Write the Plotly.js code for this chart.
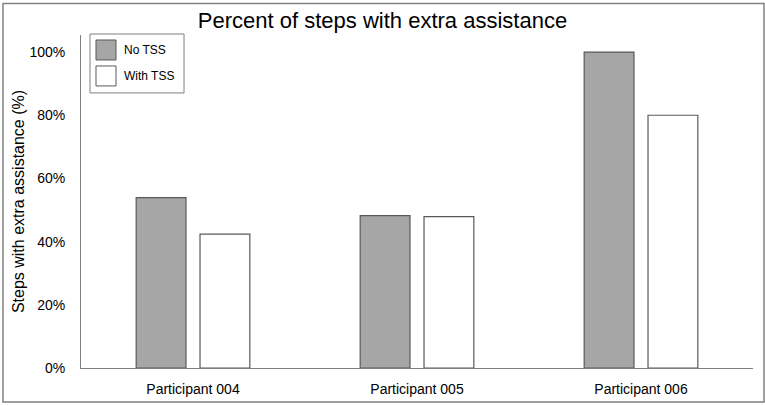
<!DOCTYPE html>
<html>
<head>
<meta charset="utf-8">
<script src="https://cdn.plot.ly/plotly-3.0.1.min.js"></script>
<style>
  body { margin: 0; background: #fff; }
  #chart { width: 765px; height: 406px; }
</style>
</head>
<body>
<div id="chart"></div>
<script>
// values (percent)
var participants = ["Participant 004", "Participant 005", "Participant 006"];
var seriesNames = ["No TSS", "With TSS"];
var noTss = [53.9, 48.2, 100];
var withTss = [42.4, 47.9, 80];
var yTicks = [0, 20, 40, 60, 80, 100];
var yTickText = yTicks.map(function (v) { return v + "%"; });

var fills = ["#a6a6a6", "#ffffff"];
var edge = "#595959";
var font = "Liberation Sans, Arial, sans-serif";

var traces = [noTss, withTss].map(function (vals, i) {
    return {
        type: "bar",
        name: seriesNames[i],
        x: participants,
        y: vals,
        marker: { color: fills[i], line: { color: edge, width: 1.2 } },
        hoverinfo: "none"
    };
});

// hand-drawn legend box so the swatches match the original size
var shapes = [
    { type: "rect", xref: "paper", yref: "paper", x0: 0.0134, x1: 0.1533, y0: 0.826, y1: 1.003,
      line: { color: "#7f7f7f", width: 1 }, fillcolor: "#fff" },
    // outer figure frame
    { type: "rect", xref: "paper", yref: "paper", x0: -0.1161, x1: 1.0164, y0: -0.1021, y1: 1.0946,
      line: { color: "#808080", width: 1.5 } }
];
var annotations = [];
var swatchY = [0.955, 0.877];
seriesNames.forEach(function (name, i) {
    shapes.push({ type: "rect", xref: "paper", yref: "paper",
        x0: 0.0223, x1: 0.0521, y0: swatchY[i] - 0.03, y1: swatchY[i] + 0.03,
        line: { color: edge, width: 1 }, fillcolor: fills[i] });
    annotations.push({ xref: "paper", yref: "paper", x: 0.061, y: swatchY[i],
        xanchor: "left", yanchor: "middle", showarrow: false, text: name,
        font: { family: font, size: 12, color: "#000" } });
});

var layout = {
    width: 765,
    height: 406,
    margin: { l: 81, r: 12, t: 35, b: 38 },
    paper_bgcolor: "#fff",
    plot_bgcolor: "#fff",
    showlegend: false,
    font: { family: font, color: "#000" },
    title: {
        text: "Percent of steps with extra assistance",
        font: { family: font, size: 22, color: "#000" },
        x: 0.5, xref: "container", xanchor: "center", y: 0.951, yanchor: "middle"
    },
    barmode: "group",
    bargap: 0.43,
    bargroupgap: 0.22,
    xaxis: {
        showline: true, linecolor: "#7f7f7f", linewidth: 1,
        ticks: "", showgrid: false, zeroline: false,
        tickfont: { family: font, size: 14, color: "#000" },
        ticklabelstandoff: 8
    },
    yaxis: {
        range: [0, 105.4],
        tickmode: "array",
        tickvals: yTicks,
        ticktext: yTickText,
        showline: true, linecolor: "#7f7f7f", linewidth: 1,
        ticks: "", showgrid: false, zeroline: false,
        tickfont: { family: font, size: 14, color: "#000" },
        ticklabelstandoff: 12,
        title: { text: "Steps with extra assistance (%)", font: { family: font, size: 16, color: "#000" }, standoff: 0 }
    },
    shapes: shapes,
    annotations: annotations
};

Plotly.newPlot("chart", traces, layout, { displayModeBar: false, staticPlot: true });
</script>
</body>
</html>
